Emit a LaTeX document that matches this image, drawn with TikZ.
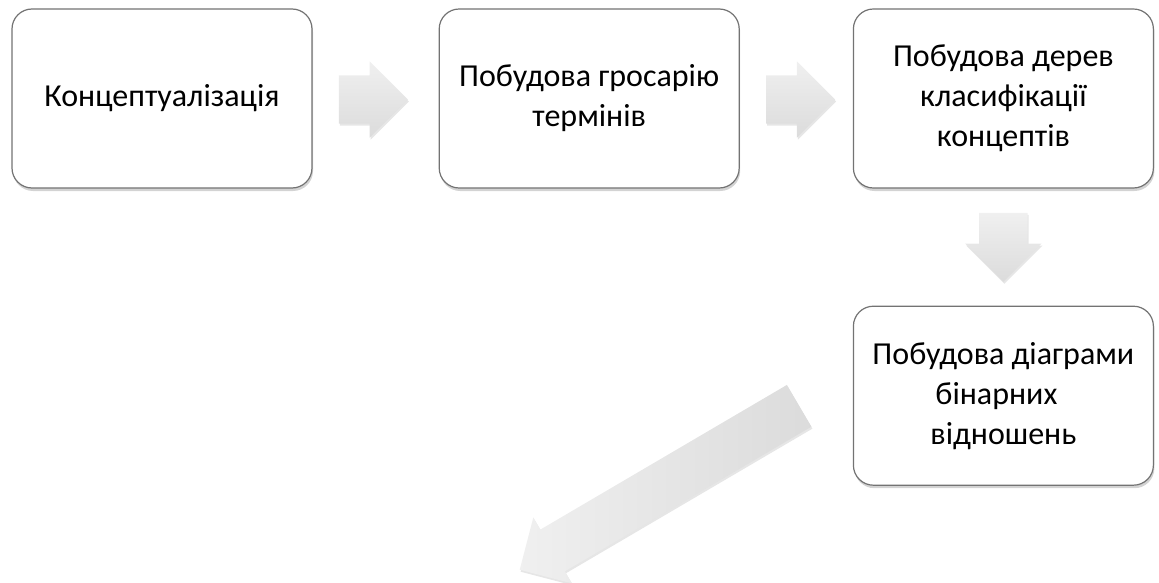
\documentclass[tikz,border=0pt]{standalone}
\usepackage{fontspec}
\setmainfont{Carlito}
\usetikzlibrary{shapes.arrows, positioning, calc, shadows}

\begin{document}
\begin{tikzpicture}[x=1pt, y=-1pt,
    stage/.style={draw=black!55, line width=1.2pt, rounded corners=20pt, fill=white,
      minimum width=300pt, minimum height=179pt, align=center, inner sep=4pt,
      font=\fontsize{32}{40}\selectfont,
      drop shadow={opacity=0.35, shadow xshift=1pt, shadow yshift=-3pt}},
    blockarrow/.style={single arrow, anchor=tail, minimum height=69pt, minimum width=76pt,
      single arrow head extend=14pt, inner xsep=0pt, inner ysep=24pt,
      top color=black!6, bottom color=black!14,
      drop shadow={opacity=0.2, shadow xshift=1pt, shadow yshift=-2pt}}]
    \useasboundingbox (0,0) rectangle (1159,583);

    % stages of the ontology
    \node[stage] (konc) at (162,98.5) {Концептуалізація};
    \node[stage, right=126pt of konc] (gros) {Побудова гросарію\\термінів};
    \node[stage, right=113pt of gros] (derev) {Побудова дерев\\класифікації\\концептів};
    \node[stage, below=117pt of derev] (bin)
      {Побудова діаграми\\бінарних\hspace{14pt}\mbox{}\\відношень};

    % block arrows between them
    \node[blockarrow] (a1) at ($(konc.east)+(26,1)$) {};
    \node[blockarrow] (a2) at ($(gros.east)+(26,1)$) {};
    \node[blockarrow, rotate=-90] (a3) at ($(derev.south)+(0,24)$) {};
    \node[blockarrow, minimum height=324pt, rotate=210.4, left color=black!6, right color=black!14]
      (a4) at ($(bin.west)+(-53.5,10)$) {};
  \end{tikzpicture}
\end{document}
